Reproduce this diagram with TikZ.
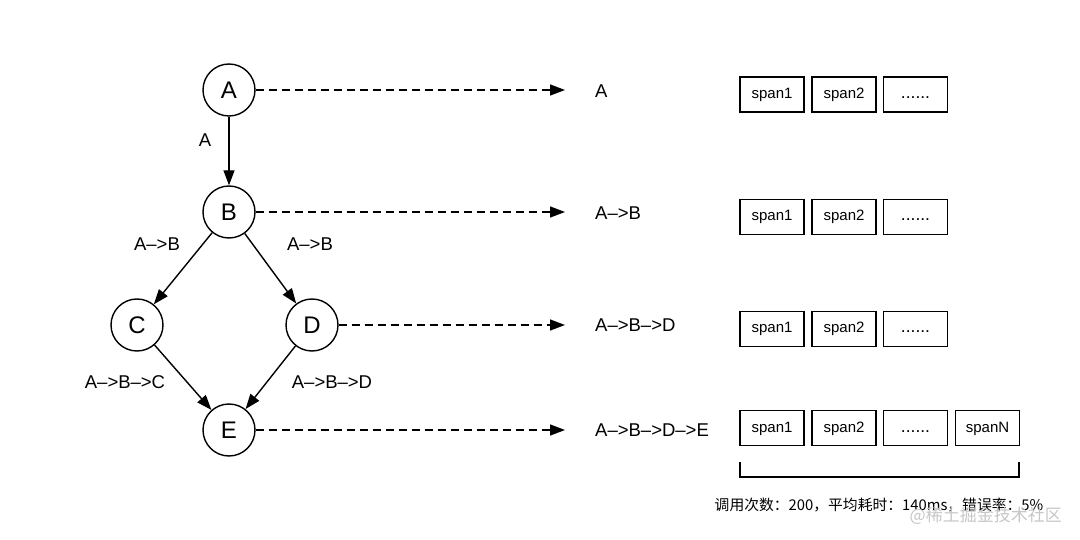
\documentclass[tikz,border=0pt]{standalone}
\usepackage{fontspec}
\setmainfont{Liberation Sans}
\newfontfamily\cjk{Noto Sans CJK SC}
\usetikzlibrary{arrows.meta}
\begin{document}
\begin{tikzpicture}[x=1pt,y=-1pt,
  vert/.style={circle,draw,line width=1.4pt,minimum size=52pt,inner sep=0pt,font=\fontsize{24}{24}\selectfont},
  edge/.style={line width=1.4pt,-{Triangle[length=15pt,width=11pt]}},
  trace/.style={line width=1.4pt,dash pattern=on 8pt off 5pt,-{Triangle[length=15pt,width=11pt]}},
  lbl/.style={inner sep=0pt,font=\fontsize{18.5}{18.5}\selectfont},
  path/.style={inner sep=0pt,anchor=west,font=\fontsize{18.5}{18.5}\selectfont},
  spanbox/.style={draw,line width=1.5pt,minimum width=64pt,minimum height=35pt,inner sep=0pt,text height=11pt,text depth=3pt,font=\fontsize{15}{15}\selectfont},
  dots/.style={spanbox,font=\fontsize{17.5}{17.5}\selectfont}]
\useasboundingbox[fill=white] (0,0) rectangle (1080,540);
\node[vert] (A) at (229,90) {A};
\node[vert] (B) at (229,212) {B};
\node[vert] (C) at (137,325) {C};
\node[vert] (D) at (312,325) {D};
\node[vert] (E) at (229,430) {E};
\draw[edge] (A) -- (B);
\draw[edge] (B) -- (C);
\draw[edge] (B) -- (D);
\draw[edge] (C) -- (E);
\draw[edge] (D) -- (E);
\node[lbl] (lab) at (205,140) {A};
\node[lbl] (lbc) at (157,244) {A–>B};
\node[lbl] (lbd) at (310,244) {A–>B};
\node[lbl] (lce) at (125,382) {A–>B–>C};
\node[lbl] (lde) at (332,382) {A–>B–>D};
\coordinate (ta) at (565,90);
\coordinate (tb) at (565,212);
\coordinate (td) at (565,325);
\coordinate (te) at (565,430);
\draw[trace] (A) -- (ta);
\draw[trace] (B) -- (tb);
\draw[trace] (D) -- (td);
\draw[trace] (E) -- (te);
\node[path] (pa) at (595,91) {A};
\node[path] (pb) at (595,213) {A–>B};
\node[path] (pd) at (595,325) {A–>B–>D};
\node[path] (pe) at (595,430) {A–>B–>D–>E};
\foreach \r/\y in {1/94.5,2/217,3/329,4/428}{
  \node[spanbox] (s\r a) at (772,\y) {span1};
  \node[spanbox] (s\r b) at (844,\y) {span2};
  \node[dots] (s\r c) at (915.5,\y) {......};
}
\node[spanbox] (s4d) at (987.5,428) {spanN};
\draw[line width=1.5pt] (740,462) |- (1019,477) -- (1019,462);
\node[inner sep=0pt,font=\cjk\fontsize{14.8}{14.8}\selectfont] (stat) at (879,505) {调用次数：200，平均耗时：140ms，错误率：5\%};
\node[inner sep=0pt,anchor=east,text=black!22,font=\cjk\fontsize{17}{17}\selectfont] (wm) at (1062,516) {@稀土掘金技术社区};
\end{tikzpicture}
\end{document}
